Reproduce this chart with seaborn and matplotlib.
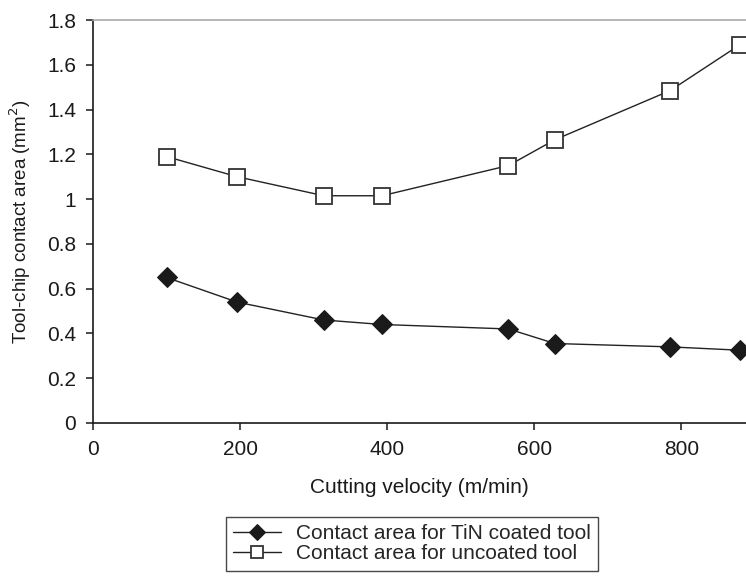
import matplotlib
matplotlib.use("Agg")
import matplotlib.pyplot as plt
import seaborn as sns
import pandas as pd
from matplotlib.ticker import FuncFormatter

velocity = [100, 196, 314, 393, 565, 628, 785, 880]
coated = [0.65, 0.54, 0.46, 0.44, 0.42, 0.355, 0.34, 0.325]
uncoated = [1.19, 1.10, 1.015, 1.015, 1.15, 1.265, 1.485, 1.69]
label_coated = "Contact area for TiN coated tool"
label_uncoated = "Contact area for uncoated tool"

sns.set_theme(style="white")
plt.rcParams['font.family'] = ['Liberation Sans', 'DejaVu Sans']

fig = plt.figure(figsize=(7.46, 5.76), dpi=100)
ax = fig.add_axes([93/746, 1 - 423/576, 1 - 93/746, (423 - 20)/576])

line_col = "#222222"
sns.lineplot(x=velocity, y=coated, ax=ax, color=line_col, lw=1.0,
             marker="D", markersize=10, markerfacecolor="#1a1a1a",
             markeredgecolor="#1a1a1a", label=label_coated)
sns.lineplot(x=velocity, y=uncoated, ax=ax, color=line_col, lw=1.0,
             marker="s", markersize=11, markerfacecolor="white",
             markeredgecolor="#333333", markeredgewidth=1.3, label=label_uncoated)

ax.set_xlim(0, 888)
ax.set_ylim(0, 1.8)
ax.set_xticks([0, 200, 400, 600, 800])
ax.set_yticks([0, 0.2, 0.4, 0.6, 0.8, 1.0, 1.2, 1.4, 1.6, 1.8])
ax.yaxis.set_major_formatter(FuncFormatter(lambda v, p: f"{v:g}"))

for s in ["left", "bottom"]:
    ax.spines[s].set_color("#1a1a1a")
    ax.spines[s].set_linewidth(1.2)
ax.spines["right"].set_visible(False)
ax.spines["top"].set_color("#aaaaaa")
ax.spines["top"].set_linewidth(1.2)

ax.tick_params(axis="both", which="major", direction="out", length=5, width=1.1,
               color="#1a1a1a", labelsize=15, labelcolor="#1a1a1a",
               left=True, bottom=True)
ax.tick_params(axis="x", pad=7)
ax.tick_params(axis="y", pad=7)

ax.set_xlabel("Cutting velocity (m/min)", fontsize=15, color="#1a1a1a", labelpad=14)
ax.set_ylabel("Tool-chip contact area (mm$^2$)", fontsize=13.5, color="#1a1a1a", labelpad=10)

ax.get_legend().remove()
handles, labels = ax.get_legend_handles_labels()
leg = fig.legend(handles, labels, loc="upper left",
                 bbox_to_anchor=(226/746, 1 - 517/576), frameon=True,
                 fancybox=False, edgecolor="#1a1a1a", fontsize=15,
                 handlelength=2.3, handletextpad=0.7, borderpad=0.35,
                 labelspacing=0.05, numpoints=1, borderaxespad=0,
                 markerscale=0.8)
leg.get_frame().set_linewidth(1.0)

fig.savefig("out.png", dpi=100)
